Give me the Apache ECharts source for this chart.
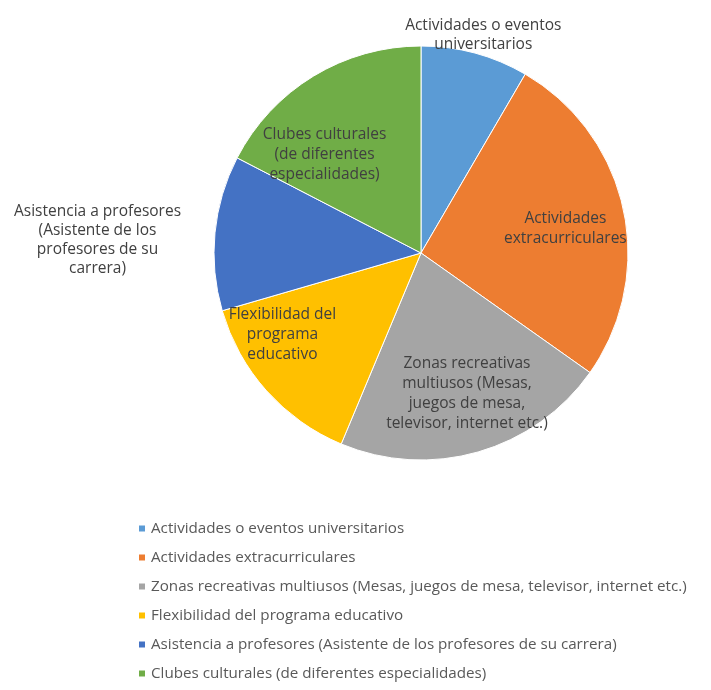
<!DOCTYPE html>
<html lang="es" style="height: 100%">
<head>
  <meta charset="utf-8">
</head>
<body style="height: 100%; margin: 0; background: #fff">
  <div id="container" style="width: 711px; height: 690px"></div>

  <script type="text/javascript" src="https://cdn.jsdelivr.net/npm/echarts@6/dist/echarts.min.js"></script>

  <script type="text/javascript">
    // categorias (leyenda) y valores aproximados (%)
    var categories = [
      'Actividades o eventos universitarios',
      'Actividades extracurriculares',
      'Zonas recreativas multiusos (Mesas, juegos de mesa, televisor, internet etc.)',
      'Flexibilidad del programa educativo',
      'Asistencia a profesores (Asistente de los profesores de su carrera)',
      'Clubes culturales (de diferentes especialidades)'
    ];
    var values = [8.4, 26.4, 21.5, 14.2, 12.1, 17.4];
    // etiquetas tal como aparecen partidas en la imagen
    var sliceLabels = [
      'Actividades o eventos\nuniversitarios',
      'Actividades\nextracurriculares',
      'Zonas recreativas\nmultiusos (Mesas,\njuegos de mesa,\ntelevisor, internet etc.)',
      'Flexibilidad del\nprograma\neducativo',
      'Asistencia a profesores\n(Asistente de los\nprofesores de su\ncarrera)',
      'Clubes culturales\n(de diferentes\nespecialidades)'
    ];
    var colors = ['#5B9BD5', '#ED7D31', '#A5A5A5', '#FFC000', '#4472C4', '#70AD47'];

    var outsideIdx = [0, 4];
    var textColor = '#404040';
    var font = '"Open Sans", sans-serif';
    var R = 207;
    var C = [421, 253];

    var dom = document.getElementById('container');
    var myChart = echarts.init(dom, null, { renderer: 'canvas' });

    // serie principal: sectores + etiquetas exteriores
    var mainData = categories.map(function (name, i) {
      var item = {
        name: name,
        value: values[i],
        itemStyle: { color: colors[i] },
        label: { show: outsideIdx.indexOf(i) >= 0, formatter: sliceLabels[i] }
      };
      if (i === 0) item.labelLine = { length: 1, length2: 0 };
      if (i === 4) item.labelLine = { length: 113, length2: 0 };
      return item;
    });

    // serie auxiliar transparente para colocar las etiquetas interiores
    var labelData = categories.map(function (name, i) {
      return {
        name: name,
        value: values[i],
        label: { show: outsideIdx.indexOf(i) < 0, formatter: sliceLabels[i] }
      };
    });

    // pequeños ajustes de las etiquetas interiores (como las coloca Excel)
    var innerNudge = {
      1: [10, 5],
      2: [8, 8],
      3: [-36, -10],
      5: [-25, 19]
    };

    var option = {
      backgroundColor: '#fff',
      animation: false,
      legend: {
        orient: 'vertical',
        left: 137,
        top: 520,
        padding: 0,
        itemWidth: 8,
        itemHeight: 8,
        itemGap: 12,
        icon: 'rect',
        data: categories,
        textStyle: { fontFamily: font, fontSize: 15.2, lineHeight: 17, color: '#595959' }
      },
      series: [
        {
          type: 'pie',
          center: C,
          radius: R,
          startAngle: 90,
          avoidLabelOverlap: false,
          itemStyle: { borderColor: '#fff', borderWidth: 1 },
          emphasis: { disabled: true },
          label: {
            position: 'outside',
            fontFamily: font,
            fontSize: 15.5,
            lineHeight: 19,
            color: textColor
          },
          labelLine: { show: false },
          labelLayout: function (p) {
            if (p.dataIndex === 0) {
              return { align: 'center', verticalAlign: 'bottom', dx: 3, dy: 2 };
            }
            if (p.dataIndex === 4) {
              return { align: 'center', verticalAlign: 'middle', dy: 18 };
            }
            return {};
          },
          data: mainData
        },
        {
          type: 'pie',
          center: C,
          radius: [62, R],
          startAngle: 90,
          silent: true,
          legendHoverLink: false,
          avoidLabelOverlap: false,
          itemStyle: { color: 'rgba(0,0,0,0)' },
          emphasis: { disabled: true },
          label: {
            position: 'inside',
            fontFamily: font,
            fontSize: 15.5,
            lineHeight: 20,
            color: textColor
          },
          labelLine: { show: false },
          labelLayout: function (p) {
            var n = innerNudge[p.dataIndex];
            return n ? { dx: n[0], dy: n[1] } : {};
          },
          data: labelData
        }
      ]
    };

    myChart.setOption(option);
    window.addEventListener('resize', myChart.resize);
  </script>
</body>
</html>
